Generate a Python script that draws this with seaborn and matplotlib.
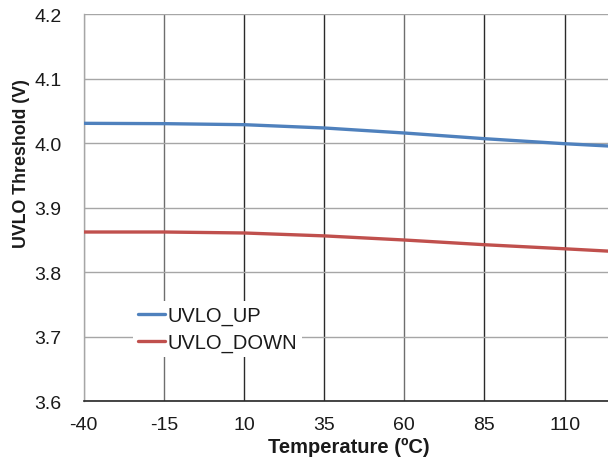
import matplotlib
matplotlib.use("Agg")
import matplotlib.pyplot as plt
import seaborn as sns
import pandas as pd

# ---- data ----
temps = [-40, -15, 10, 35, 60, 85, 110, 125]
uvlo_up = [4.0305, 4.0300, 4.0284, 4.0233, 4.0155, 4.0067, 3.9989, 3.9950]
uvlo_down = [3.8620, 3.8620, 3.8605, 3.8560, 3.8496, 3.8423, 3.8360, 3.8320]
series_names = ["UVLO_UP", "UVLO_DOWN"]
x_ticks = [-40, -15, 10, 35, 60, 85, 110]
y_ticks = [3.6, 3.7, 3.8, 3.9, 4.0, 4.1, 4.2]

df = pd.DataFrame({
    "Temperature": temps * 2,
    "Value": uvlo_up + uvlo_down,
    "Series": [series_names[0]] * len(temps) + [series_names[1]] * len(temps),
})

sns.set_theme(style="white")
plt.rcParams["font.family"] = ["Liberation Sans", "DejaVu Sans"]

W, H = 608, 464
fig = plt.figure(figsize=(W / 100, H / 100), dpi=100)
left, right_px = 83.7, 83.7 + 165 / 25 * 80.15
top, bottom = 15, 402
aw, ah = right_px - left, bottom - top
ax = fig.add_axes([left / W, 1 - bottom / H, aw / W, ah / H])

sns.lineplot(data=df, x="Temperature", y="Value", hue="Series",
             palette=["#4F81BD", "#C0504D"], linewidth=2.4, ax=ax, legend=True,
             zorder=3)

ax.set_xlim(-40, 125)
ax.set_ylim(3.6, 4.2)
ax.set_xticks(x_ticks)
ax.set_xticklabels([str(t) for t in x_ticks])
ax.set_yticks(y_ticks)
ax.set_yticklabels([f"{v:.1f}" for v in y_ticks])
ax.tick_params(axis="both", length=0, labelsize=14, colors="#1a1a1a")
ax.tick_params(axis="x", pad=11)
ax.tick_params(axis="y", pad=16)

ax.grid(True, axis="y", color="#a6a6a6", linewidth=1.0, zorder=1)
ax.grid(True, axis="x", color="#2a2a2a", linewidth=1.0, zorder=1)
for i, gl in enumerate(ax.xaxis.get_gridlines()):
    if x_ticks[i] in (-15, 60):
        gl.set_color("#6e6e6e")
    if x_ticks[i] == -40:
        gl.set_color("#a6a6a6")
ax.set_axisbelow(True)

for s in ["top", "right"]:
    ax.spines[s].set_visible(False)
ax.spines["left"].set_color("#a6a6a6")
ax.spines["left"].set_linewidth(1.0)
ax.spines["bottom"].set_color("#262626")
ax.spines["bottom"].set_linewidth(1.2)

ax.set_xlabel("Temperature (\u00baC)", fontsize=14.5, fontweight="bold", color="#1a1a1a")
ax.xaxis.set_label_coords((349 - left) / aw, -(438 - bottom) / ah)
ax.set_ylabel("UVLO Threshold (V)", fontsize=12.8, fontweight="bold", color="#1a1a1a")
ax.yaxis.set_label_coords(-(left - 30) / aw, (bottom - 164) / ah)

handles, labels = ax.get_legend_handles_labels()
leg = ax.legend(handles, labels, loc="upper left",
                bbox_to_anchor=(133 / W, 1 - 302 / H), bbox_transform=fig.transFigure,
                borderaxespad=0, frameon=True, fancybox=False, framealpha=1,
                facecolor="white", edgecolor="none", fontsize=14.5,
                handlelength=1.35, handletextpad=0.12, labelspacing=0.38,
                borderpad=0.25)
for t in leg.get_texts():
    t.set_color("#1a1a1a")
leg.set_zorder(5)

fig.savefig("out.png", dpi=100)
